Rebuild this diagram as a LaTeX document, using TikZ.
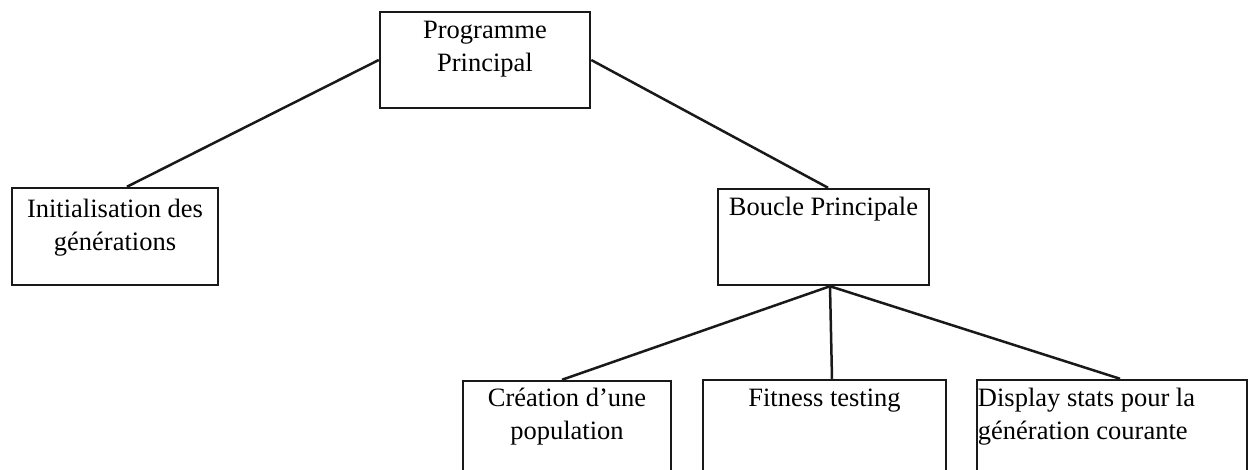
\documentclass[tikz,border=0pt]{standalone}
\usepackage{fontspec}
\setmainfont{Liberation Serif}
\begin{document}
\begin{tikzpicture}[x=1pt,y=-1pt,
  box/.style={draw=black!90, line width=2.5pt, inner sep=0pt, fill=none},
  lbl/.style={font=\fontsize{26.5}{33}\selectfont, inner sep=0pt, text=black},
  link/.style={draw=black!90, line width=2.5pt}]
  \useasboundingbox (0,0) rectangle (1250,469);
  \clip (0,0) rectangle (1250,469);
  \fill[white] (0,0) rectangle (1250,469);

  % boxes
  \node[box, minimum width=210pt, minimum height=96pt] (prog)  at (485,60) {};
  \node[box, minimum width=206pt, minimum height=97pt] (init)  at (115,236.5) {};
  \node[box, minimum width=211pt, minimum height=96pt] (loop)  at (823.5,237) {};
  \node[box, minimum width=208pt, minimum height=96pt] (pop)   at (567,429) {};
  \node[box, minimum width=243pt, minimum height=96pt] (fit)   at (824.5,428) {};
  \node[box, minimum width=270pt, minimum height=96pt] (stats) at (1112,428) {};

  % labels
  \node[lbl, anchor=north, align=center] at ([yshift=-10pt]prog.north) {Programme\\Principal};
  \node[lbl, anchor=north, align=center] at ([yshift=-12pt]init.north) {Initialisation des\\générations};
  \node[lbl, anchor=north, align=center] at ([yshift=-9pt]loop.north) {Boucle Principale};
  \node[lbl, anchor=north, align=center] at ([yshift=-8pt]pop.north) {Création d’une\\population};
  \node[lbl, anchor=north, align=center] at ([yshift=-10pt]fit.north) {Fitness testing};
  \node[lbl, anchor=north west, align=left] at ([xshift=2pt,yshift=-9pt]stats.north west) {Display stats pour la\\génération courante};

  % connectors
  \coordinate (hub) at ([xshift=6.5pt]loop.south);
  \draw[link] (prog.west) -- ([xshift=12pt]init.north);
  \draw[link] (prog.east) -- ([xshift=4.5pt]loop.north);
  \draw[link] (hub) -- ([xshift=-5pt]pop.north);
  \draw[link] (hub) -- ([xshift=7.5pt]fit.north);
  \draw[link] (hub) -- ([xshift=8pt]stats.north);
\end{tikzpicture}
\end{document}
